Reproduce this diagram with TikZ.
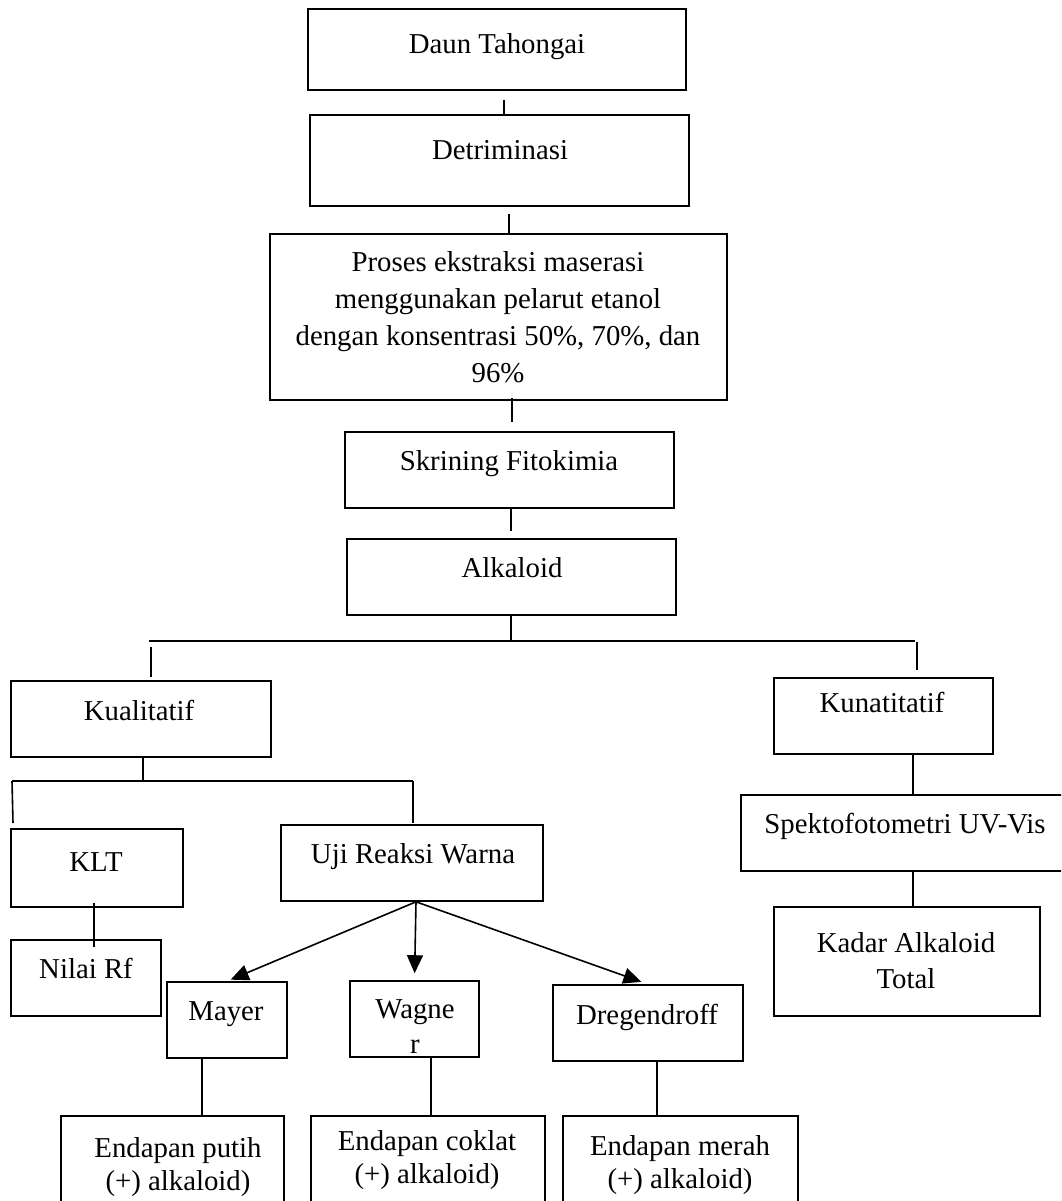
\documentclass[tikz,border=0pt]{standalone}
\usepackage{fontspec}
\setmainfont{Liberation Serif}
\usetikzlibrary{arrows.meta,fit,calc}
\begin{document}
\begin{tikzpicture}[x=1pt,y=-1pt,
  box/.style={draw, line width=1.6pt, inner sep=0pt, rectangle},
  lbl/.style={anchor=base, inner sep=0pt, align=center, font=\fontsize{28.8}{37}\selectfont},
  lbltwo/.style={lbl, font=\fontsize{28.8}{33}\selectfont},
  conn/.style={line width=1.6pt},
  arr/.style={line width=1.6pt, -{Triangle[length=18pt,width=16pt]}}]
\useasboundingbox (0,0) rectangle (1061,1201);
\clip (0,0) rectangle (1061,1201);
\fill[white] (0,0) rectangle (1061,1201);

% boxes
\node[box, fit={(308,9)(686,90)}] (daun) {};
\node[box, fit={(310,115)(689,206)}] (detr) {};
\node[box, fit={(270,234)(727,400)}] (proses) {};
\node[box, fit={(345,432)(674,508)}] (skr) {};
\node[box, fit={(347,539)(676,615)}] (alk) {};
\node[box, fit={(11,681)(271,757)}] (kual) {};
\node[box, fit={(774,678)(993,754)}] (kuan) {};
\node[box, fit={(11,829)(183,907)}] (klt) {};
\node[box, fit={(281,825)(543,901)}] (uji) {};
\node[box, fit={(11,940)(161,1016)}] (nilai) {};
\node[box, fit={(741,795)(1080,871)}] (spek) {};
\node[box, fit={(774,907)(1040,1016)}] (kadar) {};
\node[box, fit={(167,982)(287,1058)}] (mayer) {};
\node[box, fit={(350,981)(479,1057)}] (wagner) {};
\node[box, fit={(553,985)(743,1061)}] (dreg) {};
\node[box, fit={(61,1116)(284,1220)}] (eputih) {};
\node[box, fit={(311,1116)(545,1220)}] (ecoklat) {};
\node[box, fit={(563,1116)(798,1220)}] (emerah) {};

% texts (multi-line nodes: base = last line)
\node[lbl] (tdaun) at (497,54) {Daun Tahongai};
\node[lbl] (tdetr) at (500,160) {Detriminasi};
\node[lbl] (tproses) at (498,382) {Proses ekstraksi maserasi\\menggunakan pelarut etanol\\dengan konsentrasi 50\%, 70\%, dan\\96\%};
\node[lbl] (tskr) at (509,470) {Skrining Fitokimia};
\node[lbl] (talk) at (512,577) {Alkaloid};
\node[lbl] (tkual) at (139,720) {Kualitatif};
\node[lbl] (tkuan) at (882,712) {Kunatitatif};
\node[lbl] (tklt) at (96,871) {KLT};
\node[lbl] (tuji) at (413,863) {Uji Reaksi Warna};
\node[lbl] (tnilai) at (86,978) {Nilai Rf};
\node[lbl] (tspek) at (905,833) {Spektofotometri UV-Vis};
\node[lbl, font=\fontsize{28.8}{36}\selectfont] (tkadar) at (906,988) {Kadar Alkaloid\\Total};
\node[lbl] (tmayer) at (226,1020) {Mayer};
\node[lbl, font=\fontsize{28.8}{35}\selectfont] (twagner) at (415,1053) {Wagne\\r};
\node[lbl] (tdreg) at (647,1024) {Dregendroff};
\node[lbltwo] (tputih) at (178,1190) {Endapan putih\\(+) alkaloid)};
\node[lbltwo] (tcoklat) at (427,1183) {Endapan coklat\\(+) alkaloid)};
\node[lbltwo] (tmerah) at (680,1188) {Endapan merah\\(+) alkaloid)};

% connector coordinates
\coordinate (a1) at (504,100);
\coordinate (a2) at (509,214);
\coordinate (a3) at (512,398);
\coordinate (a3e) at (512,422);
\coordinate (a4) at (511,531);
\coordinate (a5) at (511,641);
\coordinate (hl) at (149,641);
\coordinate (hr) at (915,641);
\coordinate (v1) at (151,647);
\coordinate (v1e) at (151,677);
\coordinate (v2) at (917,642);
\coordinate (v2e) at (917,670);
\coordinate (k1) at (143,781);
\coordinate (hl2) at (12,781);
\coordinate (hr2) at (413,781);
\coordinate (v3e) at (13,823);
\coordinate (v4e) at (413,823);
\coordinate (n1) at (94,903);
\coordinate (n1e) at (94,947);
\coordinate (s1) at (913,0);
\coordinate (m1) at (202,0);
\coordinate (w1) at (431,0);
\coordinate (d1) at (657,0);

\draw[conn] (a1) -- (a1 |- detr.north);
\draw[conn] (a2) -- (a2 |- proses.north);
\draw[conn] (a3) -- (a3e);
\draw[conn] (a4 |- skr.south) -- (a4);
\draw[conn] (a5 |- alk.south) -- (a5);
\draw[conn] (hl) -- (hr);
\draw[conn] (v1) -- (v1e);
\draw[conn] (v2) -- (v2e);
\draw[conn] (k1 |- kual.south) -- (k1);
\draw[conn] (hl2) -- (hr2);
\draw[conn] (hl2) -- (v3e);
\draw[conn] (hr2) -- (v4e);
\draw[conn] (n1) -- (n1e);
\draw[conn] (s1 |- kuan.south) -- (s1 |- spek.north);
\draw[conn] (s1 |- spek.south) -- (s1 |- kadar.north);
\draw[conn] (m1 |- mayer.south) -- (m1 |- eputih.north);
\draw[conn] (w1 |- wagner.south) -- (w1 |- ecoklat.north);
\draw[conn] (d1 |- dreg.south) -- (d1 |- emerah.north);

\draw[arr, shorten >=4pt] ([xshift=4pt]uji.south) -- (mayer.north);
\draw[arr, shorten >=7pt] ([xshift=4pt]uji.south) -- (wagner.north);
\draw[arr, shorten >=7pt] ([xshift=4pt]uji.south) -- (dreg.north);
\end{tikzpicture}
\end{document}
